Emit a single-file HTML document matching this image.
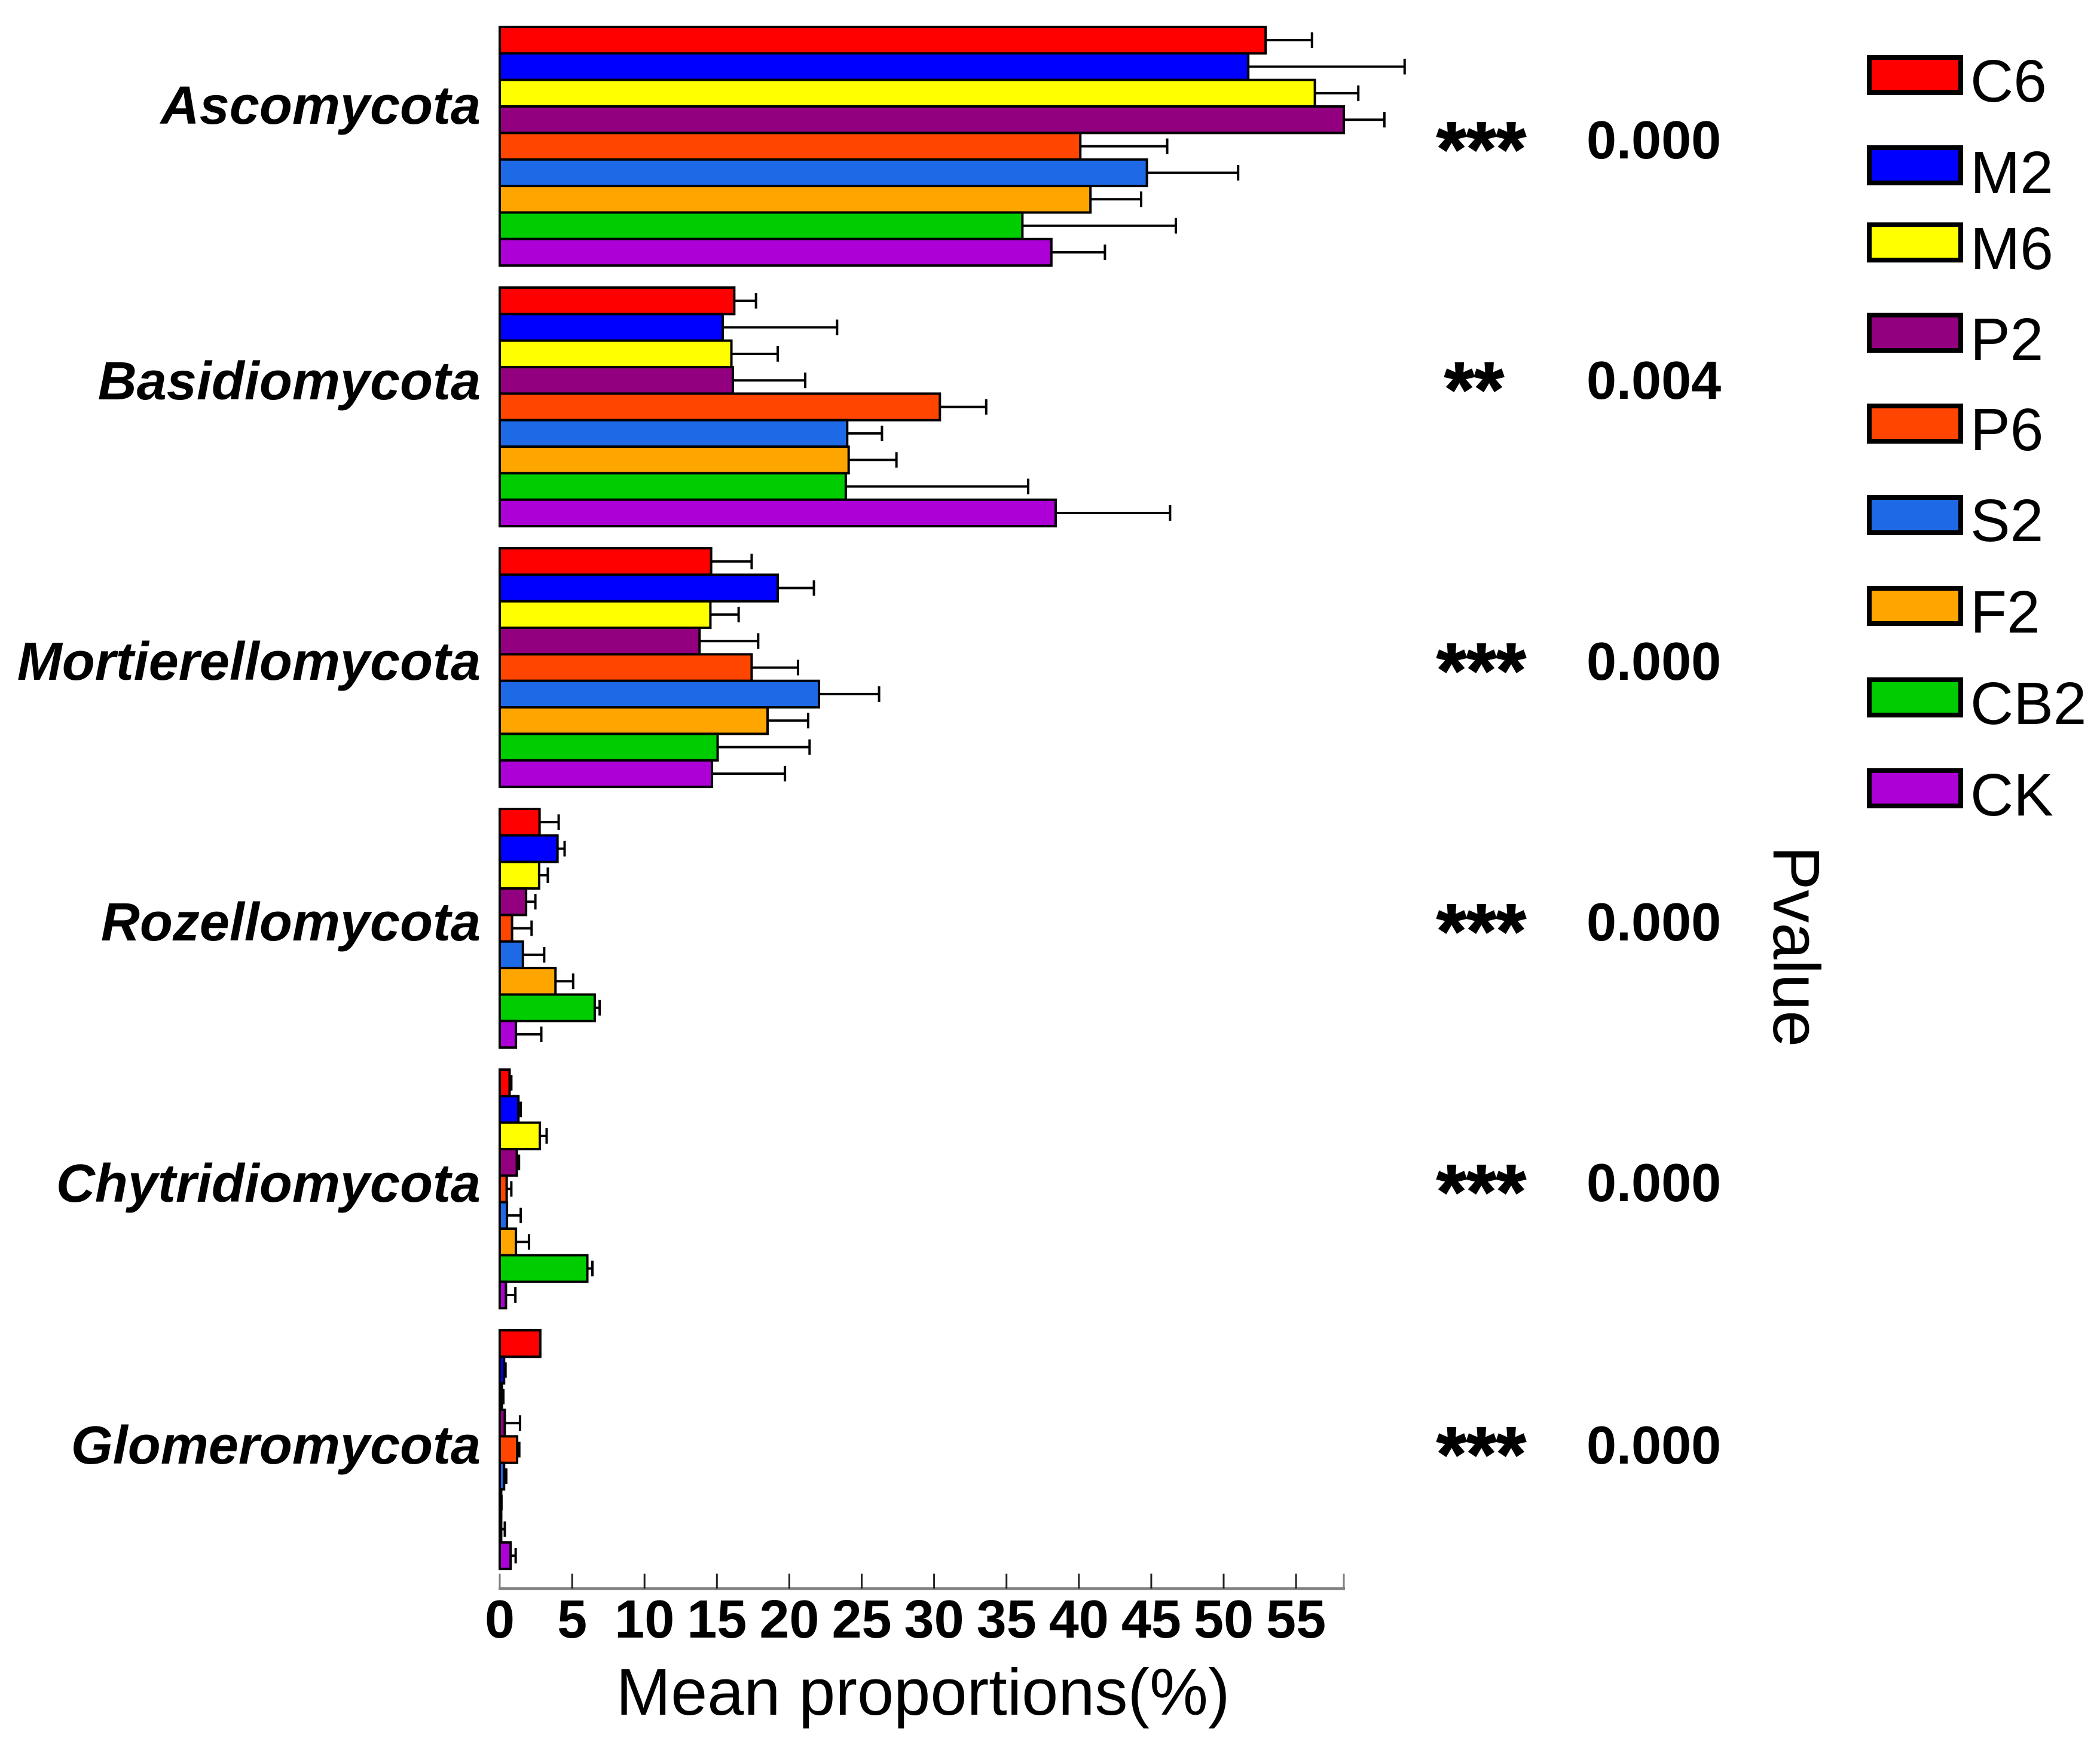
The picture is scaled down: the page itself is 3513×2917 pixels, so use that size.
<!DOCTYPE html>
<html lang="en">
<head>
<meta charset="utf-8">
<title>Mean proportions by phylum</title>
<style>
html,body{margin:0;padding:0;background:#fff;}
svg{display:block;}
text{font-family:"Liberation Sans",Arial,sans-serif;fill:#000;}
</style>
</head>
<body>
<svg id="chart" xmlns="http://www.w3.org/2000/svg" width="3513" height="2917" viewBox="0 0 3513 2917">
<rect x="0" y="0" width="3513" height="2917" fill="#ffffff"/>
<g id="bars"></g>
<g id="axis"></g>
<g id="cats"></g>
<g id="sigs"></g>
<g id="legend"></g>
<text x="1544" y="2868" font-size="110" text-anchor="middle">Mean proportions(%)</text>
<text transform="translate(2967,1415) rotate(90)" font-size="110">Pvalue</text>
</svg>
<script>
var phyla = ["Ascomycota","Basidiomycota","Mortierellomycota","Rozellomycota","Chytridiomycota","Glomeromycota"];
var seriesNames = ["C6","M2","M6","P2","P6","S2","F2","CB2","CK"];
var seriesColors = ["#ff0000","#0000ff","#ffff00","#93007f","#ff4500","#1e69e6","#ffa500","#00cd00","#ad00d6"];
var xTicks = [0,5,10,15,20,25,30,35,40,45,50,55];
var xMax = 58.3;

var meansAscomycota = [52.9,51.7,56.3,58.3,40.1,44.7,40.8,36.1,38.1];
var errorsAscomycota = [3.2,10.8,3.0,2.8,6.0,6.3,3.5,10.6,3.7];
var meansBasidiomycota = [16.2,15.4,16.0,16.1,30.4,24.0,24.1,23.9,38.4];
var errorsBasidiomycota = [1.5,7.9,3.2,5.0,3.2,2.4,3.3,12.6,7.9];
var meansMortierellomycota = [14.6,19.2,14.55,13.8,17.4,22.05,18.5,15.05,14.66];
var errorsMortierellomycota = [2.8,2.5,1.95,4.05,3.2,4.15,2.8,6.35,5.04];
var meansRozellomycota = [2.75,3.99,2.72,1.82,0.85,1.6,3.85,6.56,1.12];
var errorsRozellomycota = [1.32,0.49,0.6,0.64,1.35,1.47,1.22,0.34,1.75];
var meansChytridiomycota = [0.68,1.29,2.77,1.18,0.48,0.5,1.12,6.05,0.43];
var errorsChytridiomycota = [0.12,0.16,0.47,0.15,0.32,0.95,0.9,0.35,0.65];
var meansGlomeromycota = [2.8,0.3,0.15,0.35,1.2,0.3,0.1,0.1,0.75];
var errorsGlomeromycota = [0.0,0.1,0.1,1.05,0.15,0.15,0.02,0.25,0.35];

var significance = ["***","**","***","***","***","***"];
var pValues = ["0.000","0.004","0.000","0.000","0.000","0.000"];

var allMeans = [meansAscomycota,meansBasidiomycota,meansMortierellomycota,meansRozellomycota,meansChytridiomycota,meansGlomeromycota];
var allErrors = [errorsAscomycota,errorsBasidiomycota,errorsMortierellomycota,errorsRozellomycota,errorsChytridiomycota,errorsGlomeromycota];

var SVGNS = "http://www.w3.org/2000/svg";
var X0 = 836, UNIT = 24.22;
var GROUP_TOP = 45, GROUP_PITCH = 436, SLOT = 44.35;
var labelBaselines = [207,668,1137,1573,2010,2448];
var pBaselines = [265,667,1137,1573,2009,2448];
var legendTops = [92,243,372,523,675,828,980,1133,1285];
var legendBaselines = [170,323,450,602,753,905,1058,1211,1364];

function xScale(v){ return X0 + v * UNIT; }
function slug(s){ return s.toLowerCase(); }
function make(tag, attrs, parent){
  var el = document.createElementNS(SVGNS, tag);
  for (var k in attrs) el.setAttribute(k, attrs[k]);
  parent.appendChild(el);
  return el;
}

var barsG = document.getElementById("bars");
phyla.forEach(function(name, g){
  var group = make("g", {}, barsG);
  
  
  var top = GROUP_TOP + GROUP_PITCH * g;
  seriesNames.forEach(function(sName, s){
    var y = top + SLOT * s;
    var cy = y + SLOT / 2;
    var xEnd = xScale(allMeans[g][s]);
    var xTip = xScale(allMeans[g][s] + allErrors[g][s]);
    if (allErrors[g][s] > 0) {
      var errLine = make("line", {x1:xEnd, y1:cy, x2:xTip, y2:cy, stroke:"#000", "stroke-width":4}, group);
      
      
      var errCap = make("line", {x1:xTip, y1:cy-13, x2:xTip, y2:cy+13, stroke:"#000", "stroke-width":4}, group);
      
      
    }
  });
  seriesNames.forEach(function(sName, s){
    var y = top + SLOT * s;
    var bar = make("rect", {x:X0, y:y, width:Math.max(0, allMeans[g][s]*UNIT), height:SLOT, fill:seriesColors[s], stroke:"#000", "stroke-width":4}, group);
    
    
  });
});

var axisG = document.getElementById("axis");
var AXIS_Y = 2657;
var axisLine = make("line", {x1:X0-2, y1:AXIS_Y, x2:xScale(xMax)+2, y2:AXIS_Y, stroke:"#808080", "stroke-width":4.5}, axisG);


var axisEnd = make("line", {x1:xScale(xMax), y1:AXIS_Y-25, x2:xScale(xMax), y2:AXIS_Y, stroke:"#808080", "stroke-width":3}, axisG);


xTicks.forEach(function(t){
  var tick = make("line", {x1:xScale(t), y1:AXIS_Y-25, x2:xScale(t), y2:AXIS_Y, stroke: t===0 ? "#808080" : "#222", "stroke-width":3}, axisG);
  
  
  var label = make("text", {x:xScale(t), y:2739, "font-size":90, "font-weight":"bold", "text-anchor":"middle"}, axisG);
  
  
  label.textContent = String(t);
});

var catsG = document.getElementById("cats");
phyla.forEach(function(name, g){
  var t = make("text", {x:804, y:labelBaselines[g], "font-size":90, "font-weight":"bold", "font-style":"italic", "text-anchor":"end"}, catsG);
  
  
  t.textContent = name;
});

var sigsG = document.getElementById("sigs");
phyla.forEach(function(name, g){
  var star = make("text", {x: significance[g].length === 3 ? 2478 : 2466, y:pBaselines[g]+28, "font-size":128, "font-weight":"bold", "text-anchor":"middle", stroke:"#000", "stroke-width":2}, sigsG);
  
  
  star.textContent = significance[g];
  var p = make("text", {x:2654, y:pBaselines[g], "font-size":90, "font-weight":"bold"}, sigsG);
  
  
  p.textContent = pValues[g];
});

var legendG = document.getElementById("legend");
seriesNames.forEach(function(sName, s){
  var entry = make("g", {}, legendG);
  
  
  var swatch = make("rect", {x:3127, y:legendTops[s]+4, width:153, height:59, fill:seriesColors[s], stroke:"#000", "stroke-width":8}, entry);
  
  
  var txt = make("text", {x:3296, y:legendBaselines[s], "font-size":100}, entry);
  
  
  txt.textContent = sName;
});
</script>
</body>
</html>
